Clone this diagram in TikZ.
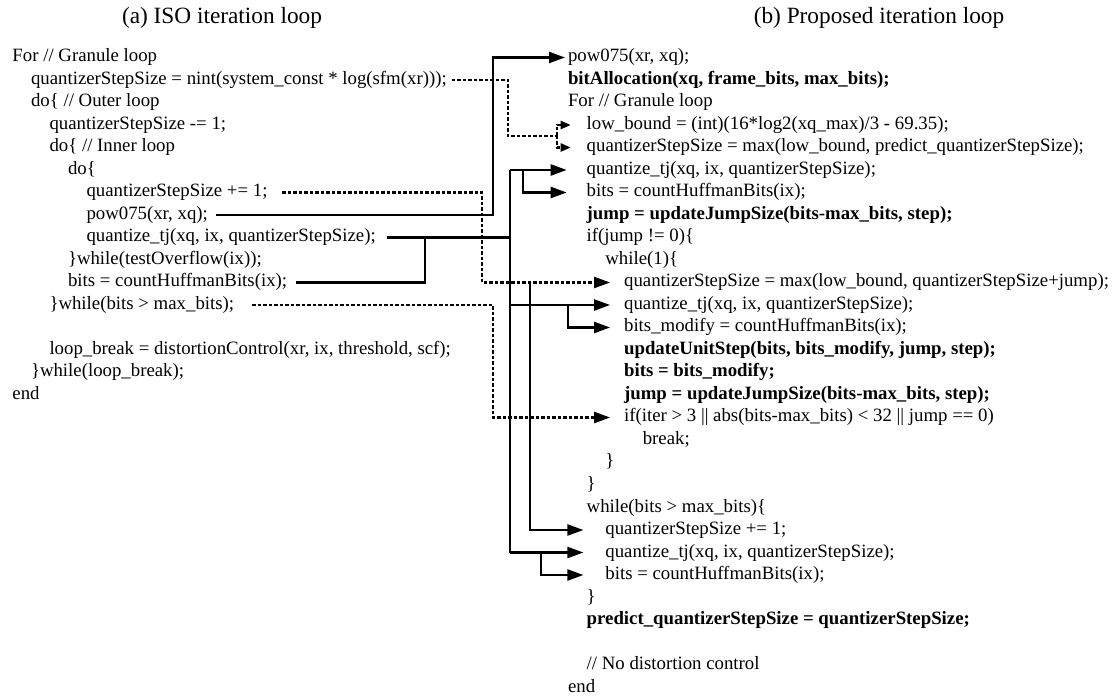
\documentclass[tikz,border=0pt]{standalone}
\usepackage{fontspec}
\setmainfont{Liberation Serif}
\usetikzlibrary{arrows.meta}
\begin{document}
\begin{tikzpicture}[x=1pt,y=-1pt,
  code/.style={inner sep=0pt, outer sep=0pt, anchor=west, font=\fontsize{18.8}{22.5}\selectfont, text height=13pt, text depth=4pt},
  bcode/.style={code, font=\fontsize{18.8}{22.5}\selectfont\bfseries},
  ttl/.style={inner sep=0pt, font=\fontsize{23.3}{28}\selectfont},
  sol/.style={line width=2.3pt, line join=miter},
  dsh/.style={line width=2.3pt, dash pattern=on 3.5pt off 2pt},
  arr/.style={-{Triangle[length=16pt,width=11pt]}},
  sarr/.style={-{Triangle[length=10pt,width=8pt]}}]
\useasboundingbox (0,0) rectangle (1117,700);
% titles
\node[ttl] (ta) at (222,18) {(a) ISO iteration loop};
\node[ttl] (tb) at (879,18) {(b) Proposed iteration loop};
% left code
\node[code] (lfor)  at (12.5,57.5) {For // Granule loop};
\node[code] (lnint) at (31,80) {quantizerStepSize = nint(system\_const * log(sfm(xr)));};
\node[code] (ldo1)  at (31,102.5) {do\{ // Outer loop};
\node[code] (lqdec) at (49.5,125) {quantizerStepSize -= 1;};
\node[code] (ldo2)  at (49.5,147.5) {do\{ // Inner loop};
\node[code] (ldo3)  at (68,170) {do\{};
\node[code] (lqinc) at (86.5,192.5) {quantizerStepSize += 1;};
\node[code] (lpow)  at (86.5,215) {pow075(xr, xq);};
\node[code] (lqtj)  at (86.5,237.5) {quantize\_tj(xq, ix, quantizerStepSize);};
\node[code] (lwto)  at (68,260) {\}while(testOverflow(ix));};
\node[code] (lbits) at (68,282.5) {bits = countHuffmanBits(ix);};
\node[code] (lwb)   at (49.5,305) {\}while(bits > max\_bits);};
\node[code] (llb)   at (49.5,350) {loop\_break = distortionControl(xr, ix, threshold, scf);};
\node[code] (lwlb)  at (31,372.5) {\}while(loop\_break);};
\node[code] (lend)  at (12.5,395) {end};
% right code
\node[code]  (rpow)  at (568,57.5) {pow075(xr, xq);};
\node[bcode] (rba)   at (568,80) {bitAllocation(xq, frame\_bits, max\_bits);};
\node[code]  (rfor)  at (568,102.5) {For // Granule loop};
\node[code]  (rlow)  at (586.7,125) {low\_bound = (int)(16*log2(xq\_max)/3 - 69.35);};
\node[code]  (rqmax) at (586.7,147.5) {quantizerStepSize = max(low\_bound, predict\_quantizerStepSize);};
\node[code]  (rqtja) at (586.7,170) {quantize\_tj(xq, ix, quantizerStepSize);};
\node[code]  (rbitsa) at (586.7,192.5) {bits = countHuffmanBits(ix);};
\node[bcode] (rjmpa) at (586.7,215) {jump = updateJumpSize(bits-max\_bits, step);};
\node[code]  (rifj)  at (586.7,237.5) {if(jump != 0)\{};
\node[code]  (rwh1)  at (605.4,260) {while(1)\{};
\node[code]  (rqj)   at (624.1,282.5) {quantizerStepSize = max(low\_bound, quantizerStepSize+jump);};
\node[code]  (rqtjb) at (624.1,305) {quantize\_tj(xq, ix, quantizerStepSize);};
\node[code]  (rbm)   at (624.1,327.5) {bits\_modify = countHuffmanBits(ix);};
\node[bcode] (rus)   at (624.1,350) {updateUnitStep(bits, bits\_modify, jump, step);};
\node[bcode] (rbbm)  at (624.1,372.5) {bits = bits\_modify;};
\node[bcode] (rjmpb) at (624.1,395) {jump = updateJumpSize(bits-max\_bits, step);};
\node[code]  (rif)   at (624.1,417.5) {if(iter > 3 || abs(bits-max\_bits) < 32 || jump == 0)};
\node[code]  (rbrk)  at (642.8,440) {break;};
\node[code]  (rc1)   at (605.4,462.5) {\}};
\node[code]  (rc2)   at (586.7,485) {\}};
\node[code]  (rwb)   at (586.7,507.5) {while(bits > max\_bits)\{};
\node[code]  (rqinc) at (605.4,530) {quantizerStepSize += 1;};
\node[code]  (rqtjc) at (605.4,552.5) {quantize\_tj(xq, ix, quantizerStepSize);};
\node[code]  (rbitsc) at (605.4,575) {bits = countHuffmanBits(ix);};
\node[code]  (rc3)   at (586.7,597.5) {\}};
\node[bcode] (rpred) at (586.7,620) {predict\_quantizerStepSize = quantizerStepSize;};
\node[code]  (rnd)   at (586.7,665) {// No distortion control};
\node[code]  (rend)  at (568,687.5) {end};
% connector junctions
\coordinate (busT) at (510,170);
\coordinate (busB) at (510,552.5);
\coordinate (fB) at (557,136);
% A: pow075
\draw[sol,arr] ([xshift=8pt]lpow.east) -| (493,57.5) -- ([xshift=-3pt]rpow.west);
% B: initial step size
\draw[dsh] ([xshift=5pt]lnint.east) -| (508,136) -- (fB);
\draw[dsh,sarr] (fB) |- ([xshift=-16pt]rlow.west);
\draw[dsh,sarr] (fB) |- ([xshift=-16pt]rqmax.west);
% C: quantize / count bits
\draw[sol] (busT) -- (busB);
\draw[sol] ([xshift=11pt]lqtj.east) -- (lqtj.east -| busT);
\draw[sol] ([xshift=9pt]lbits.east) -| (425,237.5);
\draw[sol,arr] (busT) -- ([xshift=-20pt]rqtja.west);
\draw[sol,arr] (523,170) |- ([xshift=-20pt]rbitsa.west);
\draw[sol,arr] (rqtjb.west -| busT) -- ([xshift=-14pt]rqtjb.west);
\draw[sol,arr] (568,305) |- ([xshift=-14pt]rbm.west);
\draw[sol,arr] (busB) -- ([xshift=-22pt]rqtjc.west);
\draw[sol,arr] (541,552.5) |- ([xshift=-22pt]rbitsc.west);
% D: step size increment
\draw[dsh,arr] ([xshift=15pt]lqinc.east) -| (482,282.5) -- ([xshift=-14pt]rqj.west);
\draw[sol,arr] (530,282.5) |- ([xshift=-22pt]rqinc.west);
% E: outer loop condition
\draw[dsh,arr] ([xshift=18pt]lwb.east) -| (493,417.5) -- ([xshift=-14pt]rif.west);
\end{tikzpicture}
\end{document}
